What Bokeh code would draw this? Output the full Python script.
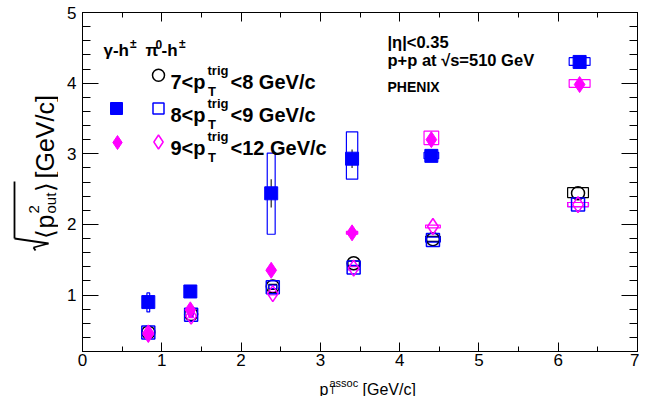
import numpy as np
from bokeh.plotting import figure
from bokeh.models import (Label, Range1d, LinearAxis, Arrow, SingleIntervalTicker,
                          CustomJSTickFormatter)
from bokeh.layouts import row, column
from bokeh.embed import file_html
from bokeh.resources import INLINE

# ---------------- data ----------------
pt_gamma = [0.83, 1.36, 2.38, 3.40, 4.40, 6.27]
pt_pi0 = [0.83, 1.37, 2.40, 3.42, 4.42, 6.25]

gam_8_9 = [0.90, 1.05, 2.44, 2.93, 2.97, 4.30]
gam_8_9_stat = [0.07, 0.05, 0.20, 0.13, 0.04, 0.04]
gam_8_9_syslo = [0.76, 0.99, 1.86, 2.64, 2.93, 4.25]
gam_8_9_syshi = [1.03, 1.10, 3.01, 3.31, 3.02, 4.36]

gam_9_12 = [0.44, 0.79, 1.35, 1.88, 3.20, 3.98]
gam_9_12_stat = [0.05, 0.06, 0.05, 0.04, 0.10, 0.05]
gam_9_12_syslo = [0.42, 0.77, 1.33, 1.86, 3.13, 3.94]
gam_9_12_syshi = [0.46, 0.81, 1.37, 1.90, 3.32, 4.05]

pi0_7_8 = [0.47, 0.73, 1.12, 1.45, 1.79, 2.44]
pi0_7_8_syslo = [0.45, 0.71, 1.08, 1.41, 1.76, 2.38]
pi0_7_8_syshi = [0.49, 0.75, 1.15, 1.48, 1.83, 2.52]

pi0_8_9 = [0.47, 0.72, 1.11, 1.39, 1.78, 2.28]
pi0_8_9_syslo = [0.45, 0.70, 1.09, 1.36, 1.75, 2.25]
pi0_8_9_syshi = [0.49, 0.74, 1.14, 1.42, 1.82, 2.31]

pi0_9_12 = [0.46, 0.70, 1.02, 1.38, 1.97, 2.28]
pi0_9_12_syslo = [0.45, 0.68, 1.00, 1.36, 1.95, 2.25]
pi0_9_12_syshi = [0.47, 0.72, 1.04, 1.40, 1.99, 2.31]

BLUE = "#0000ff"
MAG = "#ff00ff"
BLK = "#000000"
FONT = "Liberation Sans"

# ---------------- layout geometry (page pixels) ----------------
TOTAL_W, TOTAL_H = 639, 396
YT_W = 58                    # y-title strip width
MAIN_W = TOTAL_W - YT_W      # 581
BL, BR, BT, BB = 24, 2, 12, 21
FW, FH = MAIN_W - BL - BR, 339
MAIN_H = BT + FH + BB        # 372
XT_H = TOTAL_H - MAIN_H      # 24
XMIN, XMAX, YMIN, YMAX = 0.0, 7.0, 0.2, 5.0
F_LEFT = YT_W + BL
REF_TOP, REF_BOTTOM = 14.0, 353.0   # frame edges in the reference picture

fig = figure(width=MAIN_W, height=MAIN_H, x_range=Range1d(XMIN, XMAX), y_range=Range1d(YMIN, YMAX),
             output_backend="svg", toolbar_location=None, frame_align=False,
             min_border_left=BL, min_border_right=BR, min_border_top=BT, min_border_bottom=BB)
fig.xgrid.visible = False
fig.ygrid.visible = False
fig.outline_line_color = BLK
fig.outline_line_width = 1


def dx(px):
    return XMIN + (px - F_LEFT) * (XMAX - XMIN) / FW


def dy(py):
    # py measured in reference-picture pixels
    return YMIN + (REF_BOTTOM - py) * (YMAX - YMIN) / (REF_BOTTOM - REF_TOP)


def style_axis(ax, major_in, minor_in, labels=True):
    ax.axis_line_color = BLK
    ax.axis_line_width = 1
    ax.major_tick_line_color = BLK
    ax.minor_tick_line_color = BLK
    ax.major_tick_in = major_in
    ax.major_tick_out = 0
    ax.minor_tick_in = minor_in
    ax.minor_tick_out = 0
    ax.axis_label = None
    if labels:
        ax.major_label_text_font = FONT
        ax.major_label_text_font_size = "17px"
        ax.major_label_text_color = BLK
    else:
        ax.formatter = CustomJSTickFormatter(code="return ''")
        ax.major_label_text_font_size = "1px"
        ax.major_label_standoff = 0


fig.xaxis.ticker = SingleIntervalTicker(interval=1, num_minor_ticks=2)
fig.yaxis.ticker = SingleIntervalTicker(interval=1, num_minor_ticks=5)
style_axis(fig.xaxis[0], 9, 5)
style_axis(fig.yaxis[0], 16, 8)
fig.xaxis[0].major_label_standoff = 2
fig.yaxis[0].major_label_standoff = 6

top_ax = LinearAxis(ticker=SingleIntervalTicker(interval=1, num_minor_ticks=2))
style_axis(top_ax, 9, 5, labels=False)
fig.add_layout(top_ax, "above")
right_ax = LinearAxis(ticker=SingleIntervalTicker(interval=1, num_minor_ticks=5))
style_axis(right_ax, 16, 8, labels=False)
fig.add_layout(right_ax, "right")

SYS_FRAC = 0.042


def sys_boxes(xs, lo, hi, color):
    xs = np.array(xs)
    w = SYS_FRAC * xs
    fig.quad(left=xs - w / 2, right=xs + w / 2, bottom=lo, top=hi,
             fill_alpha=0, line_color=color, line_width=1.2)


def stat_bars(xs, ys, es):
    ys = np.array(ys)
    es = np.array(es)
    fig.segment(x0=xs, y0=ys - es, x1=xs, y1=ys + es, line_color="#222222", line_width=1.2)


sys_boxes(pt_pi0, pi0_7_8_syslo, pi0_7_8_syshi, BLK)
sys_boxes(pt_pi0, pi0_8_9_syslo, pi0_8_9_syshi, BLUE)
sys_boxes(pt_pi0, pi0_9_12_syslo, pi0_9_12_syshi, MAG)
sys_boxes(pt_gamma, gam_8_9_syslo, gam_8_9_syshi, BLUE)
sys_boxes(pt_gamma, gam_9_12_syslo, gam_9_12_syshi, MAG)

stat_bars(pt_gamma, gam_8_9, gam_8_9_stat)
stat_bars(pt_gamma, gam_9_12, gam_9_12_stat)

fig.scatter(pt_pi0, pi0_7_8, marker="circle", size=13, fill_alpha=0, line_color=BLK, line_width=1.5)
fig.scatter(pt_pi0, pi0_8_9, marker="square", size=13, fill_alpha=0, line_color=BLUE, line_width=1.5)
fig.scatter(pt_pi0, pi0_9_12, marker="diamond", size=16, fill_alpha=0, line_color=MAG, line_width=1.5)
fig.scatter(pt_gamma, gam_8_9, marker="square", size=13, fill_color=BLUE, line_color=BLUE)
fig.scatter(pt_gamma, gam_9_12, marker="diamond", size=16, fill_color=MAG, line_color=MAG)

# ---------------- legend ----------------
fig.scatter([dx(158)], [dy(76.7)], marker="circle", size=12, fill_alpha=0, line_color=BLK, line_width=1.5)
fig.scatter([dx(158)], [dy(110)], marker="square", size=11, fill_alpha=0, line_color=BLUE, line_width=1.5)
fig.scatter([dx(158)], [dy(143.5)], marker="diamond", size=14, fill_alpha=0, line_color=MAG, line_width=1.5)
fig.scatter([dx(116)], [dy(110)], marker="square", size=12, fill_color=BLUE, line_color=BLUE)
fig.scatter([dx(117)], [dy(144)], marker="diamond", size=14, fill_color=MAG, line_color=MAG)


def lab(f, x, y, text, size, bold=True, angle=0.0, color=BLK):
    f.add_layout(Label(x=x, y=y, text=text, text_font=FONT,
                       text_font_size=f"{size}px", text_font_style="bold" if bold else "normal",
                       text_color=color, text_align="left", text_baseline="alphabetic",
                       angle=angle))


def mlab(px, py, text, size, bold=True):
    lab(fig, dx(px), dy(py), text, size, bold)


mlab(103, 51.7, "γ-h", 17)
mlab(129.5, 45, "±", 12)
mlab(145, 51.7, "π", 17)
mlab(155, 46, "0", 12)
mlab(161, 51.7, "-h", 17)
mlab(178.5, 45, "±", 12)

rows = [("7", "<8 GeV/c", 83.3), ("8", "<9 GeV/c", 116), ("9", "<12 GeV/c", 149.3)]
for lo_txt, hi_txt, base in rows:
    mlab(170, base, lo_txt + "<p", 20)
    mlab(207, base - 11.5, "trig", 13)
    mlab(207.5, base + 9.5, "T", 13)
    mlab(230, base, hi_txt, 20)

mlab(387, 43.3, "|η|<0.35", 16.5)
mlab(387, 61, "p+p at  √s=510 GeV", 16.5)
mlab(387, 88.3, "PHENIX", 14)

# ---------------- y title strip ----------------
yfig = figure(width=YT_W, height=TOTAL_H, x_range=Range1d(0, YT_W), y_range=Range1d(TOTAL_H, 0),
              x_axis_type=None, y_axis_type=None, output_backend="svg", toolbar_location=None,
              frame_align=False,
              min_border_left=0, min_border_right=0, min_border_top=0, min_border_bottom=0)
yfig.outline_line_color = None
yfig.xgrid.visible = False
yfig.ygrid.visible = False

R = np.pi / 2
XB = 44
lab(yfig, XB, 238, "⟨", 25, bold=False, angle=R)
lab(yfig, XB, 228, "p", 25, bold=False, angle=R)
lab(yfig, XB - 11, 213, "2", 15, bold=False, angle=R)
lab(yfig, XB + 6, 213, "out", 15, bold=False, angle=R)
lab(yfig, XB, 191, "⟩", 25, bold=False, angle=R)
lab(yfig, XB, 178, "[GeV/c]", 25, bold=False, angle=R)

rad_pts = [(35, 250), (33, 247), (48, 243), (14, 238), (14, 181)]
for (xa, ya), (xb, yb) in zip(rad_pts[:-1], rad_pts[1:]):
    yfig.add_layout(Arrow(end=None, x_start=xa, y_start=ya, x_end=xb, y_end=yb,
                          line_color=BLK, line_width=1.8))

# ---------------- x title strip ----------------
xfig = figure(width=MAIN_W, height=XT_H, x_range=Range1d(YT_W, TOTAL_W),
              y_range=Range1d(TOTAL_H, MAIN_H),
              x_axis_type=None, y_axis_type=None, output_backend="svg", toolbar_location=None,
              frame_align=False,
              min_border_left=0, min_border_right=0, min_border_top=0, min_border_bottom=0)
xfig.outline_line_color = None
xfig.xgrid.visible = False
xfig.ygrid.visible = False

lab(xfig, 319, 388.5, "p", 16, bold=False)
lab(xfig, 329, 382.5, "assoc", 11, bold=False)
lab(xfig, 329, 390, "T", 10, bold=False)
lab(xfig, 362, 388.5, "[GeV/c]", 16, bold=False)

p = row(yfig, column(fig, xfig))

open("out.html", "w").write(file_html(p, INLINE))
